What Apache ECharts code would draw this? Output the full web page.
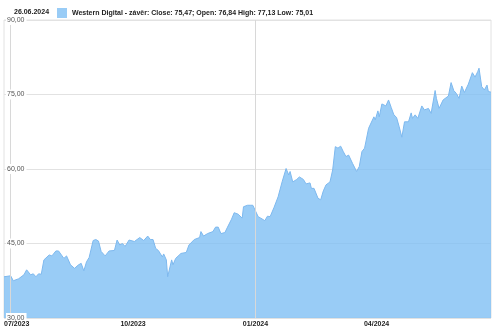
<!DOCTYPE html>
<html>
<head>
<meta charset="utf-8">
<script src="https://cdn.jsdelivr.net/npm/echarts@6/dist/echarts.min.js"></script>
<style>html,body{margin:0;padding:0;background:#fff}#c{width:500px;height:332px}</style>
</head>
<body>
<div id="c"></div>
<script>
var titleText = '26.06.2024';
var seriesName = 'Western Digital - závěr: Close: 75,47; Open: 76,84 High: 77,13 Low: 75,01';
var dates = [
'2023-06-26','2023-06-27','2023-07-01','2023-07-03','2023-07-07','2023-07-11','2023-07-13','2023-07-16','2023-07-18','2023-07-20',
'2023-07-22','2023-07-24','2023-07-26','2023-07-30','2023-08-01','2023-08-04','2023-08-06','2023-08-10','2023-08-12','2023-08-15',
'2023-08-18','2023-08-21','2023-08-23','2023-08-25','2023-08-27','2023-08-29','2023-09-01','2023-09-03','2023-09-05','2023-09-07',
'2023-09-10','2023-09-13','2023-09-17','2023-09-19','2023-09-21','2023-09-23','2023-09-25','2023-09-28','2023-10-02','2023-10-03',
'2023-10-06','2023-10-09','2023-10-12','2023-10-14','2023-10-16','2023-10-18','2023-10-20','2023-10-23','2023-10-24','2023-10-26',
'2023-10-27','2023-10-30','2023-10-31','2023-11-02','2023-11-06','2023-11-10','2023-11-12','2023-11-16','2023-11-20','2023-11-21',
'2023-11-23','2023-11-26','2023-11-30','2023-12-02','2023-12-04','2023-12-06','2023-12-09','2023-12-11','2023-12-14','2023-12-16',
'2023-12-19','2023-12-20','2023-12-22','2023-12-23','2023-12-26','2023-12-28','2023-12-30','2024-01-03','2024-01-05','2024-01-08',
'2024-01-10','2024-01-12','2024-01-15','2024-01-18','2024-01-21','2024-01-24','2024-01-26','2024-01-27','2024-01-29','2024-02-01',
'2024-02-03','2024-02-06','2024-02-08','2024-02-11','2024-02-12','2024-02-14','2024-02-17','2024-02-19','2024-02-21','2024-02-23',
'2024-02-26','2024-02-28','2024-03-01','2024-03-03','2024-03-05','2024-03-07','2024-03-09','2024-03-11','2024-03-14','2024-03-17',
'2024-03-19','2024-03-21','2024-03-23','2024-03-26','2024-03-27','2024-03-30','2024-03-31','2024-04-02','2024-04-03','2024-04-05',
'2024-04-08','2024-04-10','2024-04-12','2024-04-14','2024-04-16','2024-04-18','2024-04-20','2024-04-22','2024-04-23','2024-04-25',
'2024-04-27','2024-04-28','2024-04-30','2024-05-02','2024-05-05','2024-05-07','2024-05-10','2024-05-12','2024-05-15','2024-05-16',
'2024-05-18','2024-05-21','2024-05-22','2024-05-25','2024-05-27','2024-05-29','2024-05-31','2024-06-02','2024-06-04','2024-06-06',
'2024-06-09','2024-06-10','2024-06-12','2024-06-14','2024-06-16','2024-06-17','2024-06-19','2024-06-21','2024-06-23','2024-06-24',
'2024-06-26'
];
var closes = [
38.3,38.0,38.5,37.5,37.9,38.7,39.7,38.7,38.9,38.3,
38.9,38.8,41.7,42.7,42.5,43.5,43.5,42.0,42.5,40.7,
40.0,40.7,41.0,39.5,41.3,42.2,45.6,45.8,45.5,43.4,
42.5,43.5,43.6,45.7,44.7,45.0,44.4,45.7,45.4,45.0,
46.2,45.6,46.5,45.8,45.8,44.0,43.6,42.3,42.9,41.7,
38.3,41.7,40.7,42.0,43.0,43.2,44.7,45.8,46.2,47.4,
46.5,47.0,47.4,48.3,48.3,47.0,47.2,48.3,49.9,51.2,
50.9,51.0,50.1,52.4,52.7,52.7,52.7,50.4,50.1,49.6,
50.5,50.4,52.3,54.4,57.4,60.1,58.8,59.5,57.4,57.9,
58.4,57.9,57.0,57.2,56.1,56.1,54.1,53.8,55.6,56.8,
57.4,59.8,64.5,64.2,64.6,63.5,62.5,62.8,61.1,59.5,
60.5,63.5,64.2,68.2,68.5,70.5,69.9,71.7,70.5,73.1,
72.7,73.9,72.4,70.9,70.4,68.5,66.4,69.5,69.9,69.5,
71.3,70.2,70.9,70.2,72.7,71.9,72.2,71.2,75.8,74.2,
72.2,73.9,74.0,74.7,77.4,75.8,75.2,74.2,76.7,75.4,
77.1,76.9,79.4,78.5,79.6,80.3,76.6,75.9,76.9,75.6,
75.47
];
var xMin = '2023-06-26';
var xMax = '2024-06-26';
var xLabelDates = ['2023-07-01','2023-10-01','2024-01-01','2024-04-01'];
var xGridDates = ['2023-07-01','2024-01-01'];
var yMin = 30, yMax = 90, yStep = 15;

var font = "Arial, 'Liberation Sans', sans-serif";
function ts(s) { return Date.parse(s + 'T00:00:00Z'); }
function pad(n){return (n<10?'0':'')+n;}
var pts = dates.map(function (d, i) { return [ts(d), closes[i]]; });
var chart = echarts.init(document.getElementById('c'), null, {renderer: 'canvas'});
chart.setOption({
  animation: false,
  textStyle: {fontFamily: font},
  title: {text: titleText, left: 9, top: 4, textStyle: {fontSize: 7, fontWeight: 'bold', color: '#222', fontFamily: font}},
  legend: {
    left: 52, top: 3, icon: 'rect', itemWidth: 10, itemHeight: 10,
    itemStyle: {color: '#99ccf6', borderWidth: 0, opacity: 1},
    textStyle: {fontSize: 7, fontWeight: 'bold', color: '#222', fontFamily: font},
    data: [seriesName]
  },
  grid: {left: 4, right: 9, top: 20, bottom: 14, show: true, borderColor: '#e2e2e2', borderWidth: 1, backgroundColor: 'transparent'},
  xAxis: {
    type: 'value', min: ts(xMin), max: ts(xMax), z: 12,
    axisLine: {show: false}, axisTick: {show: false}, splitLine: {show: false},
    axisLabel: {
      customValues: xLabelDates.map(ts), margin: 3, fontSize: 7, fontWeight: 'bold', color: '#222', fontFamily: font,
      hideOverlap: false, showMinLabel: true, showMaxLabel: true,
      formatter: function (v) {
        var d = new Date(v);
        var s = pad(d.getUTCMonth() + 1) + '/' + d.getUTCFullYear();
        if (d.getUTCFullYear() === 2023 && d.getUTCMonth() === 6) return '{f|' + s + '}';
        return s;
      },
      rich: {f: {fontSize: 7, fontWeight: 'bold', color: '#222', padding: [0, 0, 0, 12], fontFamily: font}}
    }
  },
  yAxis: [{
    type: 'value', min: yMin, max: yMax, interval: yStep,
    axisLine: {show: false}, axisTick: {show: false}, axisLabel: {show: false},
    splitLine: {show: true, lineStyle: {color: '#e2e2e2', width: 1}}
  }, {
    type: 'value', min: yMin, max: yMax, interval: yStep, z: 10, position: 'left',
    axisLine: {show: false}, axisTick: {show: false}, splitLine: {show: false},
    axisLabel: {
      inside: true, margin: 2, fontSize: 7, color: '#555', fontFamily: font,
      backgroundColor: '#fff', padding: [0, 2, 3, 1],
      formatter: function (v) { return v.toFixed(2).replace('.', ','); }
    }
  }],
  series: [{
    name: seriesName, type: 'line', data: pts, yAxisIndex: 0,
    showSymbol: false, symbol: 'none', smooth: false,
    itemStyle: {color: '#99ccf6'},
    lineStyle: {color: '#7db8ee', width: 1},
    areaStyle: {color: 'rgba(128,191,244,0.8)', opacity: 1, origin: 'start'},
    markLine: {
      silent: true, symbol: 'none', label: {show: false},
      lineStyle: {color: '#d8d8d8', width: 1, type: 'solid'},
      data: xGridDates.map(function (d) { return {xAxis: ts(d)}; })
    }
  }]
});
</script>
</body>
</html>
